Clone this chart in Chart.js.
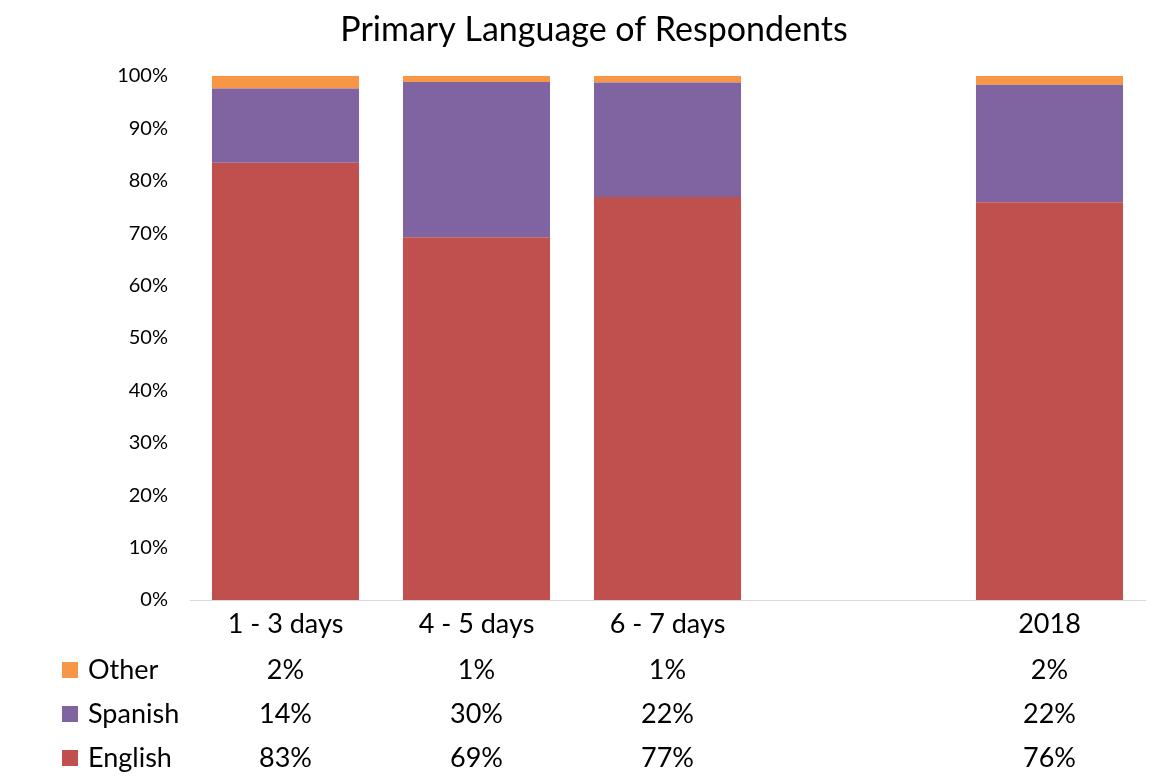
<!DOCTYPE html>
<html lang="en">
  <head>
    <meta charset="UTF-8" />
    <title>Primary Language of Respondents</title>
    <script src="https://cdn.jsdelivr.net/npm/chart.js"></script>
    <style>
      html, body { margin: 0; padding: 0; background: #fff; }
      #wrap { width: 1164px; height: 784px; }
    </style>
  </head>
  <body>
    <div id="wrap"><canvas id="langChart" width="1164" height="784"></canvas></div>

    <script>
      // categories (the empty one is the gap before 2018)
      const categories = ["1 - 3 days", "4 - 5 days", "6 - 7 days", "", "2018"];
      // shares in percent
      const english = [83.4, 69.2, 76.9, null, 75.9];
      const spanish = [14.2, 29.6, 21.8, null, 22.4];
      const other = [2.4, 1.2, 1.3, null, 1.7];
      const yTicks = [0, 10, 20, 30, 40, 50, 60, 70, 80, 90, 100];

      const FONT = "Lato, 'Open Sans', sans-serif";
      const colors = { english: "#C0504D", spanish: "#8064A2", other: "#F79646" };

      // data table under the x axis, like Excel's "data table with legend keys"
      const tablePlugin = {
        id: "dataTable",
        afterDraw(chart) {
          const ctx = chart.ctx;
          const x = chart.scales.x;
          const rows = [
            { name: "Other", values: other, color: colors.other, y: 670 },
            { name: "Spanish", values: spanish, color: colors.spanish, y: 714 },
            { name: "English", values: english, color: colors.english, y: 758 },
          ];
          ctx.save();
          ctx.font = "27px " + FONT;
          ctx.textBaseline = "middle";
          rows.forEach((r) => {
            ctx.fillStyle = r.color;
            ctx.fillRect(62, r.y - 8, 16, 16);
            ctx.fillStyle = "#000";
            ctx.textAlign = "left";
            ctx.fillText(r.name, 88, r.y);
            ctx.textAlign = "center";
            r.values.forEach((v, i) => {
              if (v === null) return;
              ctx.fillText(Math.round(v) + "%", x.getPixelForValue(i), r.y);
            });
          });
          ctx.restore();
        },
      };

      new Chart(document.getElementById("langChart"), {
        type: "bar",
        data: {
          labels: categories,
          datasets: [
            { label: "English", data: english, backgroundColor: colors.english },
            { label: "Spanish", data: spanish, backgroundColor: colors.spanish },
            { label: "Other", data: other, backgroundColor: colors.other },
          ],
        },
        options: {
          responsive: false,
          animation: false,
          layout: { padding: { left: 43, right: 19, top: 0, bottom: 144 } },
          datasets: { bar: { categoryPercentage: 1, barPercentage: 0.77 } },
          plugins: {
            legend: { display: false },
            tooltip: { enabled: false },
            title: {
              display: true,
              text: "Primary Language of Respondents",
              color: "#000",
              font: { family: FONT, size: 34, weight: "normal" },
              padding: { top: 10, bottom: 25 },
            },
          },
          scales: {
            x: {
              stacked: true,
              grid: { display: false, drawTicks: false },
              border: { display: true, color: "#d9d9d9", width: 1 },
              ticks: {
                color: "#000",
                padding: 8,
                font: { family: FONT, size: 27 },
              },
              afterFit(scale) { scale.height = 40; },
            },
            y: {
              stacked: true,
              min: 0,
              max: 100,
              grid: { display: false, drawTicks: false },
              border: { display: false },
              afterBuildTicks(scale) {
                scale.ticks = yTicks.map((v) => ({ value: v }));
              },
              ticks: {
                color: "#000",
                padding: 22,
                font: { family: FONT, size: 20 },
                callback: (v) => v + "%",
              },
              afterFit(scale) { scale.width = 147; },
            },
          },
        },
        plugins: [tablePlugin],
      });
    </script>
  </body>
</html>
